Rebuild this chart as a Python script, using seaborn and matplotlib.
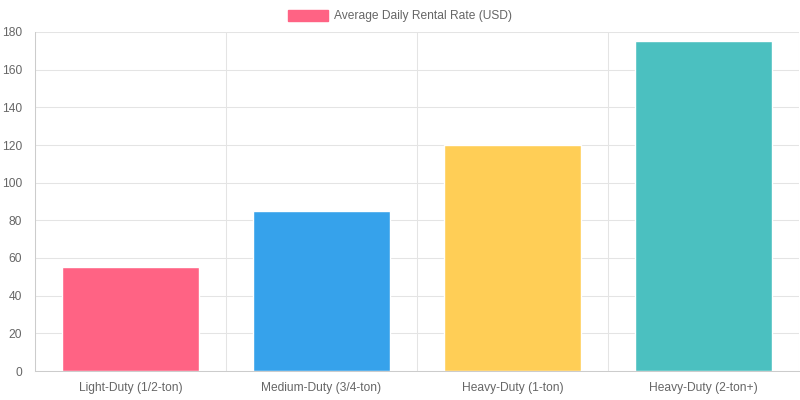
import matplotlib
matplotlib.use("Agg")
from matplotlib import pyplot as plt
from matplotlib.patches import Patch
import seaborn as sns

# Chart data
categories = ["Light-Duty (1/2-ton)", "Medium-Duty (3/4-ton)", "Heavy-Duty (1-ton)", "Heavy-Duty (2-ton+)"]
rental_rates = [55, 85, 120, 175]
bar_colors = ["#FF6384", "#36A2EB", "#FFCE56", "#4BC0C0"]
y_ticks = [0, 20, 40, 60, 80, 100, 120, 140, 160, 180]
series_label = "Average Daily Rental Rate (USD)"

sns.set_style("white")
plt.rcParams["font.family"] = ["Liberation Sans", "DejaVu Sans"]
text_color = "#666666"
grid_color = "#e4e4e4"
axis_color = "#cccccc"
font_size = 8.64
line_w = 0.75

fig = plt.figure(figsize=(8, 4), dpi=100)
ax = fig.add_axes([35 / 800, 29 / 400, 764 / 800, 339 / 400])

sns.barplot(x=categories, y=rental_rates, hue=categories, palette=bar_colors,
            width=0.72, legend=False, saturation=1, ax=ax)

ax.set_xlim(-0.5, len(categories) - 0.5)
ax.set_ylim(0, 180)
ax.set_yticks(y_ticks)
ax.set_xticks(range(len(categories)))
ax.set_xticklabels(categories)
ax.set_xticks([i - 0.5 for i in range(len(categories) + 1)], minor=True)
ax.set_xlabel("")
ax.set_ylabel("")

# grid: horizontal at y ticks, vertical at category boundaries
ax.set_axisbelow(True)
ax.yaxis.grid(True, color=grid_color, linewidth=line_w)
ax.xaxis.grid(True, which="minor", color=grid_color, linewidth=line_w)
ax.xaxis.grid(False, which="major")

ax.tick_params(axis="y", length=4.3, width=line_w, color=grid_color, pad=5,
               labelsize=font_size, labelcolor=text_color)
ax.tick_params(axis="x", which="major", length=0, pad=8,
               labelsize=font_size, labelcolor=text_color)
ax.tick_params(axis="x", which="minor", length=6.5, width=line_w, color=grid_color)

for side in ["top", "right"]:
    ax.spines[side].set_visible(False)
for side in ["left", "bottom"]:
    ax.spines[side].set_color(axis_color)
    ax.spines[side].set_linewidth(line_w)

handle = Patch(facecolor=bar_colors[0], edgecolor=bar_colors[0], label=series_label)
fig.legend(handles=[handle], loc="center", bbox_to_anchor=(0.5, 1 - 16 / 400),
           frameon=False, fontsize=font_size, labelcolor=text_color,
           handlelength=3.3, handleheight=1.0, handletextpad=0.5)

fig.savefig("out.png", dpi=100)
